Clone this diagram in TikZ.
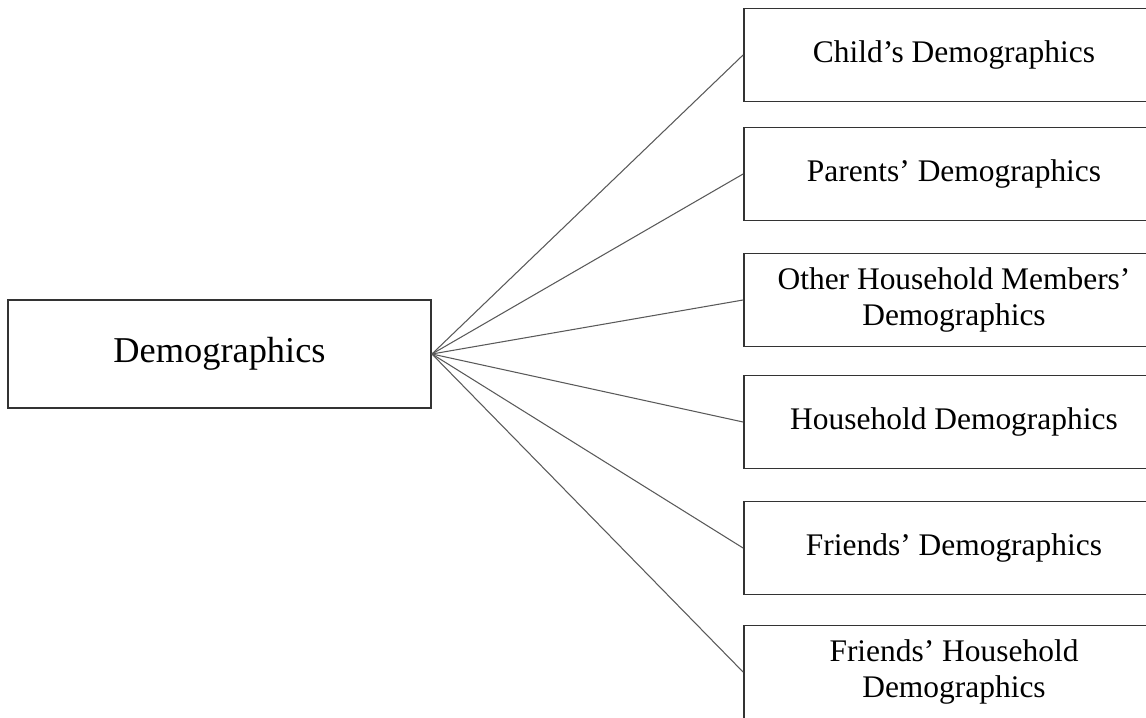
\documentclass[tikz,border=0pt]{standalone}
\usepackage{fontspec}
\setmainfont{Liberation Serif}
\usepackage{tikz}

\begin{document}
\begin{tikzpicture}[x=0.02cm, y=-0.02cm,
	every node/.style={font=\fontsize{17.9}{20}\selectfont},
	box/.style={draw=black!80, line width=1.1pt, minimum width=8.4cm, minimum height=1.86cm, align=center, inner sep=2pt},
	link/.style={draw=black!65, line width=0.6pt}]
	\useasboundingbox (0,0) rectangle (1146,717);
	\clip (0,0) rectangle (1146,717);
	\node[box, minimum width=8.46cm, minimum height=2.16cm, font=\fontsize{20.7}{24}\selectfont] (dem) at (219.5,354) {Demographics};
	\node[box] (child) at (954,55) {Child's Demographics};
	\node[box] (parents) at (954,174) {Parents' Demographics};
	\node[box] (others) at (954,300) {Other Household Members'\\Demographics};
	\node[box] (household) at (954,422) {Household Demographics};
	\node[box] (friends) at (954,548) {Friends' Demographics};
	\node[box] (friendshh) at (954,672) {Friends' Household\\Demographics};
	\foreach \n in {child,parents,others,household,friends,friendshh} {\draw[link] (dem.east) -- (\n.west);}
\end{tikzpicture}
\end{document}
